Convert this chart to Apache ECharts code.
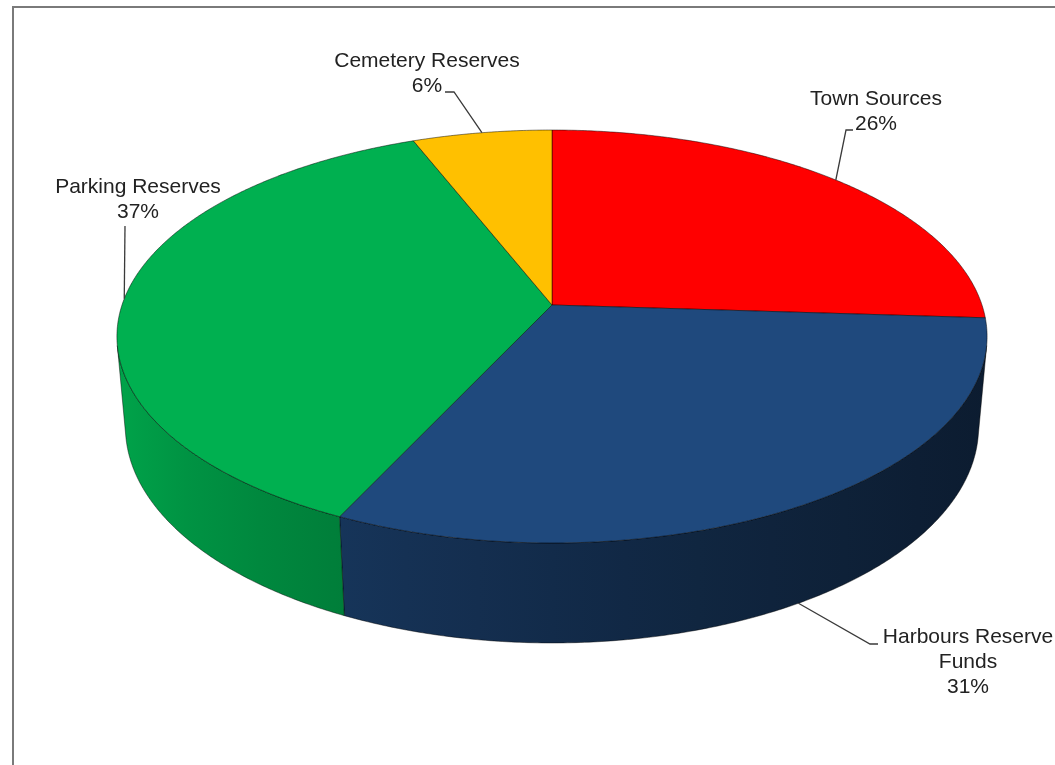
<!DOCTYPE html>
<html>
<head>
<meta charset="utf-8">
<script src="https://cdn.jsdelivr.net/npm/echarts@6/dist/echarts.min.js"></script>
<style>
  html, body { margin: 0; padding: 0; background: #ffffff; }
  #chart { width: 1055px; height: 765px; }
</style>
</head>
<body>
<div id="chart"></div>
<script>
// Funding sources, share of total (%)
const categories = ['Town Sources', 'Harbours Reserve\nFunds', 'Parking Reserves', 'Cemetery Reserves'];
const shares = [26, 31, 37, 6];
const sliceColors = ['#ff0000', '#1f497d', '#00b050', '#ffc000'];

// Label placement: top-centre of the text block, leader elbow and leader end,
// and which face of the disc the leader starts from.
const labelLayout = [
  { text: [876, 87],  elbow: [846, 130], end: [853, 130], face: 'top' },
  { text: [968, 625], elbow: [870, 644], end: [878, 644], face: 'bottom' },
  { text: [138, 175], elbow: [125, 226], end: [125, 226], face: 'top' },
  { text: [427, 49],  elbow: [454, 92],  end: [445, 92],  face: 'top' }
];

// Perspective view of a flat disc (radius 1) seen from above at an angle.
const VIEW = { cx: 552, cy: 305, scale: 430, dist: 5.79, tilt: Math.asin(0.469), depth: 0.2405 };
const SA = Math.sin(VIEW.tilt), CA = Math.cos(VIEW.tilt);

// theta: clockwise from the far side of the disc; h: 0 = top face, -depth = bottom face
function project(theta, h) {
  const X = Math.sin(theta), Z = -Math.cos(theta);
  const v = Z * SA - h * CA;
  const d = VIEW.dist - (Z * CA + h * SA);
  const f = VIEW.dist / d;
  return [VIEW.cx + VIEW.scale * X * f, VIEW.cy + VIEW.scale * v * f];
}

// part of the outer wall that faces the viewer
const zTan = 1 / (VIEW.dist * CA);
const WALL_FROM = Math.acos(-zTan);
const WALL_TO = 2 * Math.PI - WALL_FROM;
const X_LEFT = project(WALL_TO, 0)[0] - 4;
const X_RIGHT = project(WALL_FROM, 0)[0] + 4;

function shadeColor(hex, k) {
  const n = parseInt(hex.slice(1), 16);
  const r = Math.round(((n >> 16) & 255) * k);
  const g = Math.round(((n >> 8) & 255) * k);
  const b = Math.round((n & 255) * k);
  return 'rgb(' + r + ',' + g + ',' + b + ')';
}
function wallShade(t) { return 0.93 - 0.55 * Math.pow(Math.max(0, Math.min(1, t)), 0.7); }

function wallGradient(hex) {
  const stops = [];
  for (let i = 0; i <= 12; i++) {
    const t = i / 12;
    stops.push({ offset: t, color: shadeColor(hex, wallShade(t)) });
  }
  return { type: 'linear', x: X_LEFT, y: 0, x2: X_RIGHT, y2: 0, global: true, colorStops: stops };
}

const total = shares.reduce((a, b) => a + b, 0);
const STEP = Math.PI / 360;

function arcPoints(a0, a1, h) {
  const pts = [];
  const n = Math.max(2, Math.ceil((a1 - a0) / STEP));
  for (let i = 0; i <= n; i++) pts.push(project(a0 + (a1 - a0) * i / n, h));
  return pts;
}

function renderSlice(params, api) {
  const i = params.dataIndex;
  const value = api.value(1);
  let before = 0;
  for (let k = 0; k < i; k++) before += shares[k];
  const a0 = 2 * Math.PI * before / total;
  const a1 = 2 * Math.PI * (before + value) / total;
  const color = sliceColors[i];
  const children = [];

  // outer wall
  const w0 = Math.max(a0, WALL_FROM), w1 = Math.min(a1, WALL_TO);
  if (w1 > w0) {
    const topRim = arcPoints(w0, w1, 0);
    const botRim = arcPoints(w0, w1, -VIEW.depth).reverse();
    children.push({
      type: 'polygon', z2: 1,
      shape: { points: topRim.concat(botRim) },
      style: { fill: wallGradient(color), stroke: 'rgba(0,0,0,0.55)', lineWidth: 0.8, lineJoin: 'round' }
    });
  }

  // top face
  const topPts = [[VIEW.cx, VIEW.cy]].concat(arcPoints(a0, a1, 0));
  children.push({
    type: 'polygon', z2: 5,
    shape: { points: topPts },
    style: { fill: color, stroke: 'rgba(0,0,0,0.6)', lineWidth: 0.8, lineJoin: 'round' }
  });

  // leader line and label
  const lay = labelLayout[i];
  const mid = (a0 + a1) / 2;
  const anchor = project(mid, lay.face === 'top' ? 0 : -VIEW.depth);
  children.push({
    type: 'polyline', z2: 8,
    shape: { points: [anchor, lay.elbow, lay.end] },
    style: { stroke: '#3a3a3a', lineWidth: 1.3, fill: null }
  });
  children.push({
    type: 'text', z2: 10,
    x: lay.text[0], y: lay.text[1],
    style: {
      text: categories[i] + '\n' + Math.round(value / total * 100) + '%',
      fill: '#222222',
      font: '21px "Liberation Sans", Arial, sans-serif',
      align: 'center', verticalAlign: 'top',
      textAlign: 'center', textVerticalAlign: 'top',
      lineHeight: 25
    }
  });

  return { type: 'group', children: children };
}

const chart = echarts.init(document.getElementById('chart'), null, { renderer: 'canvas' });
chart.setOption({
  backgroundColor: '#ffffff',
  animation: false,
  graphic: [{
    type: 'rect', silent: true, z: -1,
    shape: { x: 13, y: 7, width: 1100, height: 800 },
    style: { fill: null, stroke: '#7a7a7a', lineWidth: 2 }
  }],
  series: [{
    type: 'custom',
    coordinateSystem: 'none',
    silent: true,
    renderItem: renderSlice,
    data: shares.map((v, i) => [i, v])
  }]
});
</script>
</body>
</html>
